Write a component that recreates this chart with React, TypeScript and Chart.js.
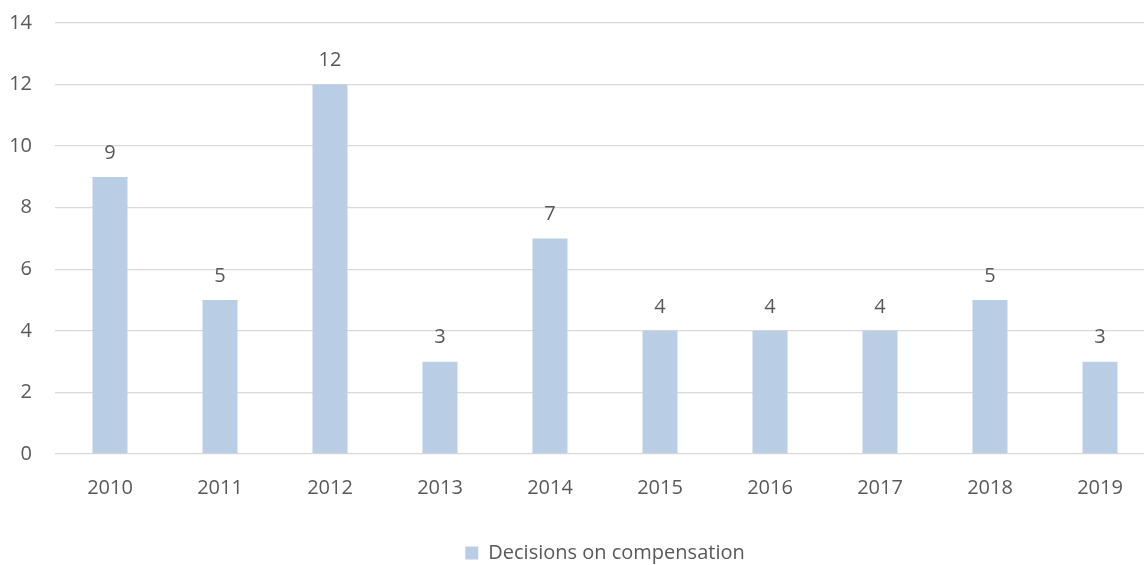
import React, { useEffect, useRef } from "react";
import { Chart, registerables } from "chart.js";

Chart.register(...registerables);

const categories = ["2010", "2011", "2012", "2013", "2014", "2015", "2016", "2017", "2018", "2019"];
const decisions = [9, 5, 12, 3, 7, 4, 4, 4, 5, 3];
const seriesLabel = "Decisions on compensation";

const FONT = "'Open Sans', 'Liberation Sans', sans-serif";
const TEXT = "#595959";

const valueLabels = {
  id: "valueLabels",
  afterDatasetsDraw(chart: any) {
    const ctx = chart.ctx;
    ctx.save();
    ctx.font = `20px ${FONT}`;
    ctx.fillStyle = TEXT;
    ctx.textAlign = "center";
    ctx.textBaseline = "middle";
    chart.data.datasets.forEach((ds: any, i: number) => {
      const meta = chart.getDatasetMeta(i);
      meta.data.forEach((el: any, j: number) => {
        ctx.fillText(String(ds.data[j]), el.x, el.y - 24);
      });
    });
    ctx.restore();
  },
};

export default function App() {
  const ref = useRef<HTMLCanvasElement>(null);
  useEffect(() => {
    if (!ref.current) return;
    const chart = new Chart(ref.current, {
      type: "bar",
      data: {
        labels: categories,
        datasets: [
          {
            label: seriesLabel,
            data: decisions,
            backgroundColor: "#B9CDE5",
            barPercentage: 0.318,
            categoryPercentage: 1,
          },
        ],
      },
      options: {
        animation: false,
        responsive: true,
        maintainAspectRatio: false,
        layout: { padding: { top: 0, left: 0, right: 0, bottom: 0 } },
        plugins: {
          tooltip: { enabled: false },
          legend: {
            position: "bottom",
            fullSize: false,
            labels: {
              font: { family: FONT, size: 20 },
              color: TEXT,
              boxWidth: 13,
              boxHeight: 13,
              padding: 2,
            },
          },
        },
        scales: {
          x: {
            grid: { display: false },
            border: { display: false },
            ticks: { font: { family: FONT, size: 20 }, color: TEXT, padding: 14 },
            afterFit(scale: any) {
              scale.height = 87;
            },
          },
          y: {
            min: 0,
            max: 14,
            grid: { color: "#D9D9D9", lineWidth: 1.3, drawTicks: false },
            border: { display: false },
            ticks: { stepSize: 2, font: { family: FONT, size: 20 }, color: TEXT, padding: 23 },
            afterFit(scale: any) {
              scale.width = 55;
            },
          },
        },
      },
      plugins: [valueLabels],
    });
    return () => chart.destroy();
  }, []);
  return (
    <div style={{ position: "fixed", left: 0, top: 0, width: 1144, height: 565, overflow: "hidden", background: "#fff" }}>
      <div style={{ position: "absolute", left: 0, top: -12, width: 1155, height: 585 }}>
        <canvas ref={ref} />
      </div>
    </div>
  );
}
